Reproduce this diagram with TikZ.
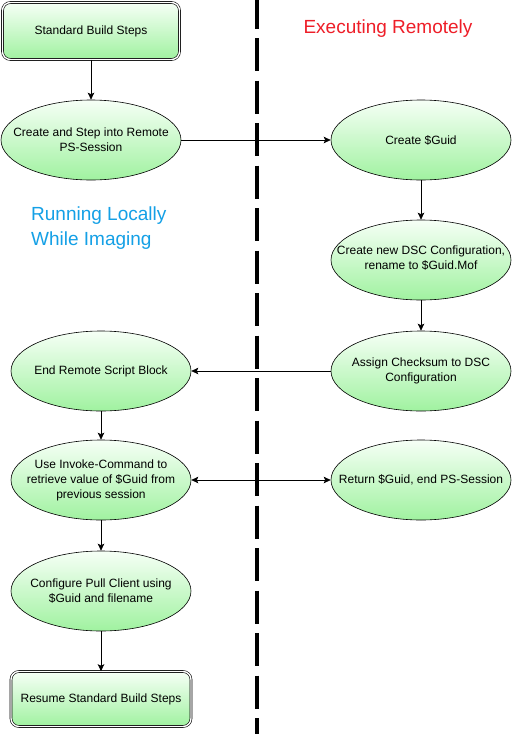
\documentclass[tikz,border=0pt]{standalone}
\usepackage{fontspec}
\setmainfont{Liberation Sans}
\usetikzlibrary{shapes.geometric,arrows.meta}
\definecolor{gtop}{RGB}{246,255,246}
\definecolor{gmid}{RGB}{212,250,212}
\definecolor{gbot}{RGB}{160,242,160}
\definecolor{lblue}{RGB}{20,160,230}
\definecolor{lred}{RGB}{238,30,40}
\tikzset{
  ptext/.style={align=center, inner sep=0pt, font=\fontsize{12}{15}\selectfont},
  proc/.style={ellipse, draw=black, line width=0.6pt, top color=gtop, middle color=gmid, bottom color=gbot,
    minimum width=180pt, minimum height=80pt, inner sep=0pt},
  termbox/.style={rectangle, rounded corners=8pt, draw=black, double=white, double distance=1.4pt,
    line width=0.6pt, top color=gtop, middle color=gmid, bottom color=gbot, inner sep=0pt, align=center,
    font=\fontsize{12}{15}\selectfont},
  flow/.style={draw=black, line width=0.7pt, -{Stealth[length=7pt,width=6.5pt,inset=1.5pt]}},
  biflow/.style={draw=black, line width=0.7pt, {Stealth[length=7pt,width=6.5pt,inset=1.5pt]}-{Stealth[length=7pt,width=6.5pt,inset=1.5pt]}},
  lane/.style={font=\fontsize{19}{25}\selectfont, inner sep=0pt}
}
\begin{document}
\begin{tikzpicture}[x=1pt,y=-1pt]
\useasboundingbox (0,0) rectangle (512,734);
\fill[white] (0,0) rectangle (512,734);
% divider
\coordinate (dtop) at (257,0);
\coordinate (dbot) at (257,734);
\draw[line width=4.5pt, dash pattern=on 33pt off 9.5pt, dash phase=4.5pt] (dtop) -- (dbot);
% lane labels
\node[lane, text=lred] (remote) at (388,29) {Executing Remotely};
\node[lane, text=lblue, anchor=north west, align=left] (local) at (31,207) {Running Locally\\While Imaging};
% nodes
\node[termbox, minimum width=177pt, minimum height=57pt] (start) at (91,31) {Standard Build Steps};
\node[proc, label={[ptext]center:Create and Step into Remote\\PS-Session}] (step) at (91,140) {};
\node[proc, label={[ptext]center:Create \$Guid}] (guid) at (421,140) {};
\node[proc, label={[ptext, yshift=2pt]center:Create new DSC Configuration,\\rename to \$Guid.Mof}] (dsc) at (421,260) {};
\node[proc, label={[ptext]center:Assign Checksum to DSC\\Configuration}] (assign) at (421,371) {};
\node[proc, label={[ptext]center:End Remote Script Block}] (endrem) at (101,371) {};
\node[proc, label={[ptext]center:Use Invoke-Command to\\retrieve value of \$Guid from\\previous session}] (invoke) at (101,480) {};
\node[proc, label={[ptext]center:Return \$Guid, end PS-Session}] (ret) at (421,480) {};
\node[proc, label={[ptext]center:Configure Pull Client using\\\$Guid and filename}] (pull) at (101,591) {};
\node[termbox, minimum width=180pt, minimum height=55pt] (resume) at (101,699) {Resume Standard Build Steps};
% connectors
\draw[flow] (start) -- (step);
\draw[flow] (step) -- (guid);
\draw[flow] (guid) -- (dsc);
\draw[flow] (dsc) -- (assign);
\draw[flow] (assign) -- (endrem);
\draw[flow] (endrem) -- (invoke);
\draw[biflow] (invoke) -- (ret);
\draw[flow] (invoke) -- (pull);
\draw[flow] (pull) -- (resume);
\end{tikzpicture}
\end{document}
